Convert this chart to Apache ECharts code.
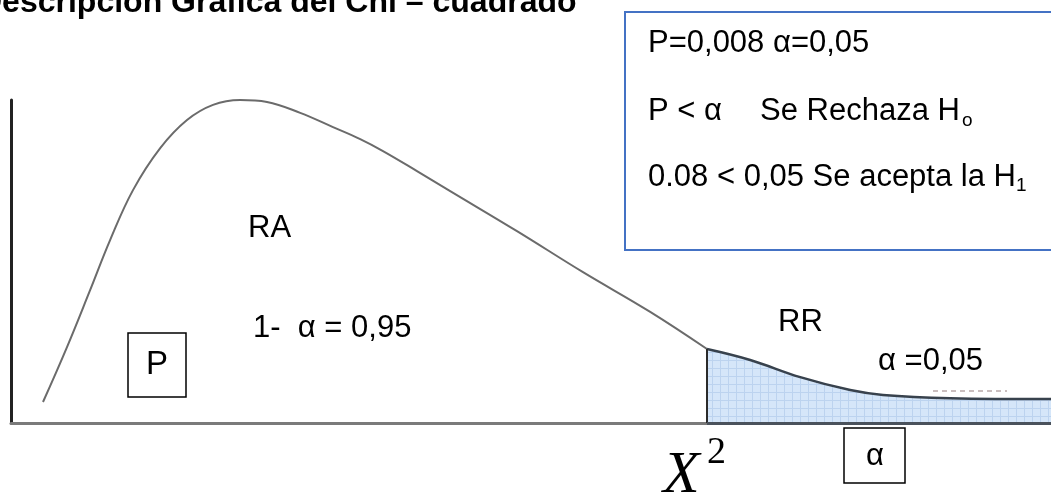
<!DOCTYPE html>
<html>
<head>
<meta charset="utf-8">
<style>
  html, body { margin: 0; padding: 0; background: #fff; }
  #chart { width: 1051px; height: 494px; }
</style>
</head>
<body>
<div id="chart"></div>
<script src="https://cdn.jsdelivr.net/npm/echarts@6/dist/echarts.min.js"></script>
<script>
  // curva chi-cuadrado (x en unidades del eje, y en % del pico)
  const chiX = [0.8, 1.4, 1.98, 2.48, 3.05, 3.73, 4.4, 5.05, 5.73, 6.4, 7.23, 8.05, 8.73,
    9.3, 10.15, 10.98, 12.65, 14.3, 15.98, 17.4, 18.48, 19.73, 20.98, 21.8, 23.48, 26];
  const densidad = [6.5, 23.5, 41.2, 56.7, 72.1, 85.1, 93.8, 98.5, 100, 99.4, 96.0, 91.6, 87.9,
    84.2, 78.0, 71.8, 59.4, 46.7, 34.4, 22.9, 19.5, 14.2, 10.2, 8.7, 7.7, 7.4];
  const critico = 17.4;      // valor de X^2 que separa RA de RR
  const ejeX = [0, 26];
  const ejeY = [0, 100];

  const fuente = 'Arial, "Liberation Sans", sans-serif';

  // separar region de aceptacion y region de rechazo
  let zonaRA = [], zonaRR = [], yCritico = 0;
  for (let i = 0; i < chiX.length; i++) {
    if (chiX[i] <= critico) zonaRA.push([chiX[i], densidad[i]]);
    if (chiX[i] >= critico) zonaRR.push([chiX[i], densidad[i]]);
    if (chiX[i] === critico) yCritico = densidad[i];
  }

  // trama cuadriculada celeste para el area de rechazo
  function trama() {
    let c = document.createElement('canvas');
    c.width = 8; c.height = 8;
    let g = c.getContext('2d');
    g.fillStyle = '#d5e6f9';
    g.fillRect(0, 0, 8, 8);
    g.fillStyle = '#bcd3ef';
    g.fillRect(0, 0, 8, 1);
    g.fillRect(0, 0, 1, 8);
    return c;
  }

  function texto(x, y, t, size, extra) {
    let el = {
      type: 'text', x: x, y: y, z: 10,
      style: { text: t, fontSize: size, fontFamily: fuente, fill: '#000', align: 'left', verticalAlign: 'middle' }
    };
    if (extra) Object.assign(el.style, extra);
    return el;
  }

  function caja(x, y, w, h, color, ancho) {
    return {
      type: 'rect', z: 9,
      shape: { x: x, y: y, width: w, height: h },
      style: { fill: '#fff', stroke: color, lineWidth: ancho }
    };
  }

  let myChart = echarts.init(document.getElementById('chart'));
  let option = {
    animation: false,
    grid: { left: 11, right: 0, top: 100, bottom: 71 },
    xAxis: {
      type: 'value', min: ejeX[0], max: ejeX[1],
      axisLine: { show: true, lineStyle: { color: '#7a7a7a', width: 3 } },
      axisTick: { show: false }, axisLabel: { show: false }, splitLine: { show: false }
    },
    yAxis: {
      type: 'value', min: ejeY[0], max: ejeY[1],
      axisLine: { show: true, lineStyle: { color: '#222', width: 3 } },
      axisTick: { show: false }, axisLabel: { show: false }, splitLine: { show: false }
    },
    series: [
      {
        type: 'line', data: zonaRA, smooth: 0.4, symbol: 'none',
        lineStyle: { color: '#6b6b6b', width: 2 }
      },
      {
        type: 'line', data: zonaRR, smooth: 0.4, symbol: 'none',
        lineStyle: { color: '#38424d', width: 2.5 },
        areaStyle: { color: { image: trama(), repeat: 'repeat' }, opacity: 1 },
        markLine: {
          silent: true, symbol: 'none', label: { show: false },
          data: [
            [{ coord: [critico, 0], lineStyle: { color: '#2b2b2b', width: 2, type: 'solid' } }, { coord: [critico, yCritico] }],
            [{ coord: [critico, 0], lineStyle: { color: '#4a525c', width: 3, type: 'solid' } }, { coord: [ejeX[1], 0] }],
            [{ coord: [23.05, 9.9], lineStyle: { color: '#b9a9a9', width: 1.5, type: [5, 4] } }, { coord: [24.9, 9.9] }]
          ]
        }
      }
    ],
    graphic: [
      texto(-21, 3, 'Descripcion Grafica del Chi – cuadrado', 32, { fontWeight: 'bold' }),
      caja(625, 12, 440, 238, '#4472c4', 2),
      texto(648, 43, 'P=0,008 α=0,05', 31),
      texto(648, 111, 'P < α', 31),
      texto(760, 111, 'Se Rechaza H', 31),
      texto(962, 121, 'o', 19),
      texto(648, 177, '0.08 < 0,05 Se acepta la H', 31),
      texto(1016, 186, '1', 19),
      texto(248, 228, 'RA', 31),
      texto(253, 328, '1-  α = 0,95', 31),
      texto(778, 322, 'RR', 31),
      texto(878, 361, 'α =0,05', 31),
      caja(128, 333, 58, 64, '#000', 1.5),
      texto(157, 365, 'P', 33, { align: 'center' }),
      caja(844, 428, 61, 55, '#000', 1.5),
      texto(875, 456, 'α', 31, { align: 'center' }),
      texto(663, 476, 'X', 60, { fontFamily: '"Liberation Serif", serif', fontStyle: 'italic' }),
      texto(707, 453, '2', 38, { fontFamily: '"Liberation Serif", serif' })
    ]
  };
  myChart.setOption(option);
</script>
</body>
</html>
